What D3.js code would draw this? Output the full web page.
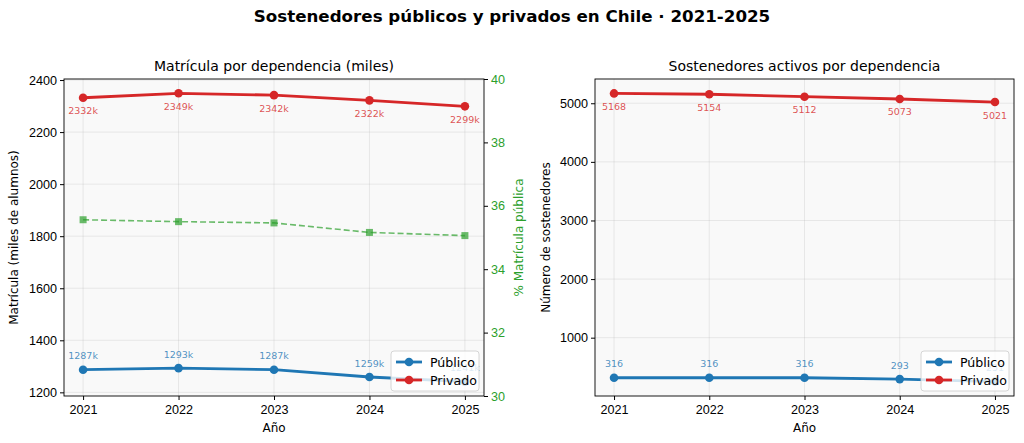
<!DOCTYPE html>
<html lang="es">
<head>
<meta charset="UTF-8">
<title>Sostenedores Chile</title>
<script src="https://d3js.org/d3.v7.min.js"></script>
<style>
  body { margin: 0; background: #fff; }
  svg { font-family: "DejaVu Sans", sans-serif; }
</style>
</head>
<body>
<div id="chart"></div>
<script>
    // data
    var years = [2021, 2022, 2023, 2024, 2025];
    var matriculaPublico = [1287, 1293, 1287, 1259, 1241];
    var matriculaPrivado = [2332, 2349, 2342, 2322, 2299];
    var pctPublico = [35.56, 35.50, 35.46, 35.16, 35.06];
    var sostPublico = [316, 316, 316, 293, 251];
    var sostPrivado = [5168, 5154, 5112, 5073, 5021];
    var leftTicks = [1200, 1400, 1600, 1800, 2000, 2200, 2400];
    var pctTicks = [30, 32, 34, 36, 38, 40];
    var rightTicks = [1000, 2000, 3000, 4000, 5000];

    var W = 1024, H = 443;
    var blue = "#1f77b4", red = "#d62728", green = "#2ca02c";

    var svg = d3.select("#chart").append("svg")
        .attr("width", W)
        .attr("height", H);

    svg.append("text")
        .attr("x", 512)
        .attr("y", 22)
        .attr("text-anchor", "middle")
        .style("font-size", "16.7px")
        .style("font-weight", "bold")
        .text("Sostenedores públicos y privados en Chile · 2021-2025");

    // draws one panel, returns scales
    function panel(box, yDomain, yTicks, title, ylabel, pub, priv, fmt) {
        var g = svg.append("g");
        var x = d3.scaleLinear().domain([2020.8, 2025.2]).range([box.x0, box.x1]);
        var y = d3.scaleLinear().domain(yDomain).range([box.y1, box.y0]);

        g.append("rect")
            .attr("x", box.x0).attr("y", box.y0)
            .attr("width", box.x1 - box.x0).attr("height", box.y1 - box.y0)
            .attr("fill", "#f9f9f9");

        // grid
        g.selectAll("line.gx").data(years).enter().append("line")
            .attr("x1", d => x(d)).attr("x2", d => x(d))
            .attr("y1", box.y0).attr("y2", box.y1)
            .attr("stroke", "#b0b0b0").attr("stroke-opacity", 0.3).attr("stroke-width", 0.8);
        g.selectAll("line.gy").data(yTicks).enter().append("line")
            .attr("x1", box.x0).attr("x2", box.x1)
            .attr("y1", d => y(d)).attr("y2", d => y(d))
            .attr("stroke", "#b0b0b0").attr("stroke-opacity", 0.3).attr("stroke-width", 0.8);

        var xAxis = g.append("g")
            .attr("transform", "translate(0," + box.y1 + ")")
            .call(d3.axisBottom(x).tickValues(years).tickFormat(d3.format("d")).tickSizeOuter(0).tickSize(4));
        var yAxis = g.append("g")
            .attr("transform", "translate(" + box.x0 + ",0)")
            .call(d3.axisLeft(y).tickValues(yTicks).tickFormat(d3.format("d")).tickSizeOuter(0).tickSize(4));
        [xAxis, yAxis].forEach(function(a) {
            a.select(".domain").remove();
            a.selectAll("text").style("font-size", "12.6px").attr("fill", "#000");
            a.selectAll("line").attr("stroke", "#000");
        });
        xAxis.selectAll("text").attr("dy", "0.85em");

        g.append("text")
            .attr("x", (box.x0 + box.x1) / 2).attr("y", box.y0 - 8)
            .attr("text-anchor", "middle")
            .style("font-size", "14px")
            .text(title);
        g.append("text")
            .attr("x", (box.x0 + box.x1) / 2).attr("y", box.y1 + 36)
            .attr("text-anchor", "middle")
            .style("font-size", "12px")
            .text("Año");
        g.append("text")
            .attr("transform", "translate(" + box.ylx + "," + (box.y0 + box.y1) / 2 + ") rotate(-90)")
            .attr("text-anchor", "middle")
            .attr("dominant-baseline", "central")
            .style("font-size", "12px")
            .text(ylabel);

        var line = d3.line().x((d, i) => x(years[i])).y(d => y(d));
        [[pub, blue, -14], [priv, red, 13]].forEach(function(s) {
            g.append("path")
                .datum(s[0])
                .attr("d", line)
                .attr("fill", "none")
                .attr("stroke", s[1])
                .attr("stroke-width", 2.8);
            g.selectAll(null).data(s[0]).enter().append("circle")
                .attr("cx", (d, i) => x(years[i])).attr("cy", d => y(d))
                .attr("r", 4.3).attr("fill", s[1]);
            g.selectAll(null).data(s[0]).enter().append("text")
                .attr("x", (d, i) => x(years[i])).attr("y", d => y(d) + s[2])
                .attr("text-anchor", "middle")
                .attr("dominant-baseline", "central")
                .attr("fill", s[1]).attr("fill-opacity", 0.8)
                .style("font-size", "9.5px")
                .text(fmt);
        });

        // frame
        g.append("rect")
            .attr("x", box.x0).attr("y", box.y0)
            .attr("width", box.x1 - box.x0).attr("height", box.y1 - box.y0)
            .attr("fill", "none").attr("stroke", "#000").attr("stroke-width", 0.9);

        return {g: g, x: x, y: y, box: box};
    }

    function legend(p) {
        var lx = p.box.x1 - 93, ly = p.box.y1 - 45;
        var lg = p.g.append("g");
        lg.append("rect")
            .attr("x", lx).attr("y", ly).attr("width", 88).attr("height", 40)
            .attr("rx", 3)
            .attr("fill", "#fff").attr("fill-opacity", 0.8)
            .attr("stroke", "#ccc").attr("stroke-width", 0.8);
        [["Público", blue], ["Privado", red]].forEach(function(d, i) {
            var cy = ly + 11 + i * 18;
            lg.append("line")
                .attr("x1", lx + 5).attr("x2", lx + 31).attr("y1", cy).attr("y2", cy)
                .attr("stroke", d[1]).attr("stroke-width", 2.8);
            lg.append("circle").attr("cx", lx + 18).attr("cy", cy).attr("r", 4.3).attr("fill", d[1]);
            lg.append("text")
                .attr("x", lx + 39).attr("y", cy)
                .attr("dominant-baseline", "central")
                .style("font-size", "12.6px")
                .text(d[0]);
        });
    }

    var left = panel({x0: 64, x1: 484, y0: 79, y1: 396, ylx: 14},
        [1186, 2404], leftTicks, "Matrícula por dependencia (miles)",
        "Matrícula (miles de alumnos)", matriculaPublico, matriculaPrivado, d => d + "k");

    // twin axis for % public enrolment
    var yPct = d3.scaleLinear().domain([30, 40]).range([396, 79]);
    var pAxis = left.g.append("g")
        .attr("transform", "translate(484,0)")
        .call(d3.axisRight(yPct).tickValues(pctTicks).tickSizeOuter(0).tickSize(4));
    pAxis.select(".domain").remove();
    pAxis.selectAll("line").attr("stroke", "#000");
    pAxis.selectAll("text").style("font-size", "12.6px").attr("fill", green);
    left.g.append("text")
        .attr("transform", "translate(519," + (79 + 396) / 2 + ") rotate(-90)")
        .attr("text-anchor", "middle")
        .attr("dominant-baseline", "central")
        .attr("fill", green)
        .style("font-size", "12px")
        .text("% Matrícula pública");
    left.g.append("path")
        .datum(pctPublico)
        .attr("d", d3.line().x((d, i) => left.x(years[i])).y(d => yPct(d)))
        .attr("fill", "none")
        .attr("stroke", green).attr("stroke-opacity", 0.7)
        .attr("stroke-width", 1.6)
        .attr("stroke-dasharray", "6,3");
    left.g.selectAll(null).data(pctPublico).enter().append("rect")
        .attr("x", (d, i) => left.x(years[i]) - 3.5).attr("y", d => yPct(d) - 3.5)
        .attr("width", 7).attr("height", 7)
        .attr("fill", green).attr("fill-opacity", 0.7);
    legend(left);

    var right = panel({x0: 595, x1: 1014, y0: 79, y1: 396, ylx: 546},
        [5, 5414], rightTicks, "Sostenedores activos por dependencia",
        "Número de sostenedores", sostPublico, sostPrivado, d => d);
    legend(right);
</script>
</body>
</html>
